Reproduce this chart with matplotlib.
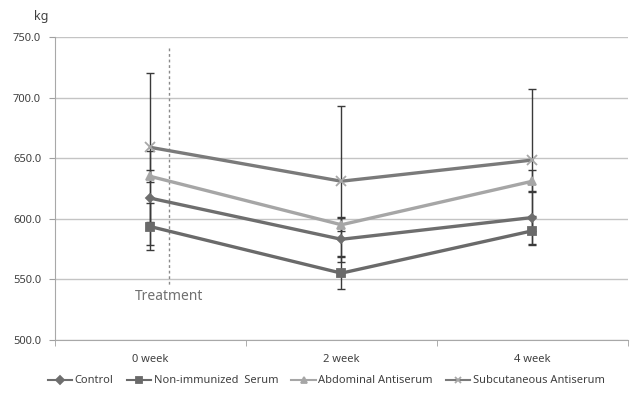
import numpy as np
import matplotlib
matplotlib.use('Agg')
import matplotlib.pyplot as plt

weeks = ['0 week', '2 week', '4 week']

control = [617, 583, 601]
control_sd = [39, 18.4, 22]
non_immunized = [593.5, 555, 590]
non_immunized_sd = [19.5, 13.3, 12]
abdominal = [635, 595, 631]
abdominal_sd = [5, 5.5, 9]
subcutaneous = [659, 631, 648.5]
subcutaneous_sd = [61.5, 62, 59]

y_ticks = [500, 550, 600, 650, 700, 750]

plt.rcParams['font.family'] = ['Noto Sans', 'DejaVu Sans']

fig = plt.figure(figsize=(6.31, 4.07), dpi=100)
ax = fig.add_axes([0.087, 0.1654, 0.908, 0.7430])

x = np.arange(len(weeks))

series = [
    ('Control', control, control_sd, 'D', '#6e6e6e', '#6e6e6e', 4.5),
    ('Non-immunized  Serum', non_immunized, non_immunized_sd, 's', '#6a6a6a', '#6a6a6a', 6),
    ('Abdominal Antiserum', abdominal, abdominal_sd, '^', '#a6a6a6', '#a6a6a6', 6),
    ('Subcutaneous Antiserum', subcutaneous, subcutaneous_sd, 'x', '#7a7a7a', '#a8a8a8', 7),
]

for name, vals, sd, mk, lc, mc, ms in series:
    ax.errorbar(x, vals, yerr=sd, fmt='none', ecolor='#3a3a3a', elinewidth=1,
                capsize=3, capthick=1, zorder=2)
for name, vals, sd, mk, lc, mc, ms in series:
    ax.plot(x, vals, color=lc, lw=2.4, marker=mk, ms=ms, mfc=mc, mec=mc,
            mew=1.3, label=name, zorder=3)

ax.set_xlim(-0.5, 2.5)
ax.set_ylim(500, 750)
ax.set_yticks(y_ticks)
ax.set_yticklabels(['%.1f' % v for v in y_ticks])
ax.set_xticks(x)
ax.set_xticklabels(weeks)
ax.set_xticks([-0.5, 0.5, 1.5, 2.5], minor=True)
ax.tick_params(axis='x', which='major', length=0, pad=10, labelsize=8, colors='#404040')
ax.tick_params(axis='x', which='minor', length=4, color='#a0a0a0')
ax.tick_params(axis='y', length=4, color='#a0a0a0', labelsize=8, colors='#404040', pad=6)

ax.grid(axis='y', color='#c4c4c4', lw=1)
ax.set_axisbelow(True)
for s in ['top', 'right']:
    ax.spines[s].set_visible(False)
for s in ['left', 'bottom']:
    ax.spines[s].set_color('#a8a8a8')

# treatment marker
ax.plot([0.098, 0.098], [741, 544], ls=(0, (2, 2)), color='#8a8a8a', lw=1, zorder=1)
ax.text(0.098, 536, 'Treatment', ha='center', va='center', fontsize=10, color='#707070')

fig.text(0.065, 0.96, 'kg', ha='center', va='center', fontsize=9, color='#404040')

leg = fig.legend(loc='center', bbox_to_anchor=(0.517, 0.064), ncol=4, frameon=False,
                 fontsize=8, handlelength=2.2, handletextpad=0.2, columnspacing=1.2,
                 labelcolor='#404040')
for h in leg.legend_handles:
    h.set_linewidth(1.5)
    h.set_markersize(4)

fig.savefig('out.png', dpi=100)
